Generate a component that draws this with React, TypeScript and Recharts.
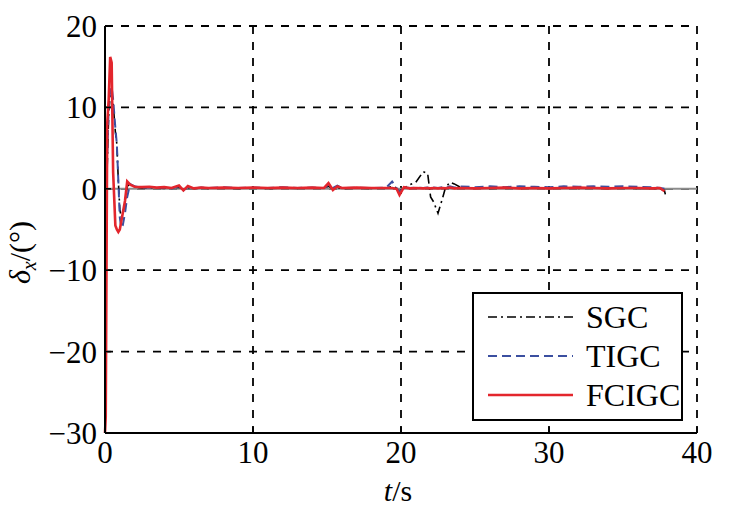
import React from 'react';
import {
  CartesianGrid,
  Legend,
  Line,
  LineChart,
  ReferenceLine,
  XAxis,
  YAxis,
} from 'recharts';

// time samples (s)
const time = [
  0, 0.05, 0.15, 0.25, 0.35, 0.45, 0.55, 0.7, 0.8, 0.9,
  1.0, 1.1, 1.2, 1.35, 1.5, 1.7, 2.0, 2.5, 3, 3.5,
  4, 4.5, 5, 5.3, 5.6, 6, 6.5, 7, 8, 9,
  10, 11, 12, 13, 14, 14.8, 15.1, 15.4, 15.7, 16,
  17, 18, 19, 19.4, 19.7, 19.9, 20.2, 20.6, 21, 21.5,
  21.8, 22, 22.2, 22.5, 22.8, 23, 23.3, 23.6, 24, 25,
  26, 27, 28, 29, 30, 31, 32, 33, 34, 35,
  36, 37, 37.5, 37.8, 37.9,
];

const sgc = [
  -30, -6.5, 3, 9, 11.5, 12, 10.5, 7, 5.5, 1,
  -2.5, -3.5, -3, -1.8, 0.3, 0.6, 0.2, 0.1, 0.15, 0.1,
  0.05, 0.1, 0.2, -0.1, 0.15, 0, 0.1, 0.05, 0.1, 0.05,
  0.1, 0.05, 0.1, 0.05, 0.1, 0.1, 0.3, 0, 0.15, 0.05,
  0.1, 0.05, 0.1, 0.3, 0.1, -0.3, 0.1, 0.5, 0.8, 2.1,
  1.9, -1, -1.6, -3, -1.2, 0.1, 0.8, 0.6, 0.2, 0.1,
  0.05, 0.1, 0.05, 0.1, 0.05, 0.1, 0.05, 0.1, 0.05, 0.1,
  0.05, 0.05, 0, -0.2, -1,
];

const tigc = [
  -30, -6, 4, 10, 12, 12.5, 11, 7.5, 5.5, 1,
  -3.5, -4.8, -4.5, -3, -1, 0.6, 0.3, 0.15, 0.2, 0.1,
  0.15, 0.05, 0.3, -0.2, 0.25, 0.05, 0.15, 0.1, 0.2, 0.1,
  0.15, 0.1, 0.2, 0.1, 0.15, 0.1, 0.5, 0.1, 0.4, 0.1,
  0.15, 0.1, 0.15, 0.9, 0.1, -0.4, 0.2, 0.1, 0.15, 0.1,
  0.15, 0.1, 0.15, 0.1, 0.2, 0.1, 0.3, 0.15, 0.3, 0.2,
  0.3, 0.2, 0.3, 0.25, 0.2, 0.3, 0.25, 0.3, 0.25, 0.3,
  0.25, 0.2, 0.1, 0, null,
];

const fcigc = [
  -30, -28, 8, 11, 16.2, 15.5, 2, -4.5, -5, -5.3,
  -5, -4, -3, -1.5, 0.9, 0.5, 0.25, 0.2, 0.25, 0.15,
  0.2, 0.1, 0.4, -0.2, 0.35, 0.05, 0.15, 0.1, 0.15, 0.1,
  0.15, 0.1, 0.15, 0.1, 0.15, 0.1, 0.7, -0.15, 0.3, 0.1,
  0.15, 0.1, 0.1, 0.1, 0, -0.75, 0.2, 0.05, 0.1, 0.05,
  0.1, 0.05, 0.1, 0.05, 0.1, 0.05, 0.15, 0.05, 0.1, 0.05,
  0.1, 0.15, 0.05, 0.1, 0.05, 0.1, 0.15, 0.1, 0.05, 0.1,
  0.1, 0.05, 0.1, -0.3, null,
];

const xTicks = [0, 10, 20, 30, 40];
const yTicks = [-30, -20, -10, 0, 10, 20];

const FONT = 'Liberation Serif';

const series = [
  { key: 'SGC', color: '#000000', dash: '9 4 2 4', width: 1.6 },
  { key: 'TIGC', color: '#3b4fa0', dash: '9 5', width: 2 },
  { key: 'FCIGC', color: '#e3262d', dash: undefined, width: 2.6 },
];

const data = time.map((t, i) => ({
  t,
  SGC: sgc[i],
  TIGC: tigc[i],
  FCIGC: fcigc[i],
}));

const fmt = (v: number) => String(v).replace('-', '\u2212');

function YLabel({ viewBox }: any) {
  const cx = 30;
  const cy = viewBox.y + viewBox.height / 2 + 23;
  return (
    <text
      x={cx}
      y={cy}
      transform={`rotate(-90 ${cx} ${cy})`}
      textAnchor="middle"
      fontFamily={FONT}
      fontSize={30}
      fill="#000"
    >
      <tspan fontStyle="italic">δ</tspan>
      <tspan fontStyle="italic" fontSize={20} dy={6}>
        x
      </tspan>
      <tspan dy={-6}>/(°)</tspan>
    </text>
  );
}

function XLabel({ viewBox }: any) {
  const cx = viewBox.x + viewBox.width / 2 - 3;
  const cy = viewBox.y + 68;
  return (
    <text
      x={cx}
      y={cy}
      textAnchor="middle"
      fontFamily={FONT}
      fontSize={30}
      fill="#000"
    >
      <tspan fontStyle="italic">t</tspan>
      <tspan>/s</tspan>
    </text>
  );
}

function LegendBox() {
  return (
    <svg width={211} height={129} style={{ display: 'block' }}>
      <rect
        x={1}
        y={1}
        width={209}
        height={127}
        fill="#fff"
        stroke="#000"
        strokeWidth={2}
      />
      {series.map((s, i) => {
        const y = 25 + i * 39;
        return (
          <g key={s.key}>
            <line
              x1={16}
              x2={101}
              y1={y}
              y2={y}
              stroke={s.color}
              strokeWidth={s.width}
              strokeDasharray={s.dash}
            />
            <text
              x={114}
              y={y + 11}
              fontFamily={FONT}
              fontSize={32}
              fill="#000"
            >
              {s.key}
            </text>
          </g>
        );
      })}
    </svg>
  );
}

export default function App() {
  const tickStyle = { fontFamily: FONT, fontSize: 31, fill: '#000' };
  return (
    <div style={{ width: 741, height: 524, background: '#fff' }}>
      <style>{'body{margin:0}'}</style>
      <LineChart
        width={741}
        height={524}
        data={data}
        margin={{ top: 26, right: 44, bottom: 0, left: 0 }}
      >
        <CartesianGrid
          stroke="#000"
          strokeWidth={1.8}
          strokeDasharray="8 8"
        />
        <XAxis
          dataKey="t"
          type="number"
          domain={[0, 40]}
          ticks={xTicks}
          height={91}
          tickSize={-6}
          tickMargin={14}
          tick={tickStyle}
          tickFormatter={fmt}
          axisLine={{ stroke: '#000', strokeWidth: 2 }}
          tickLine={{ stroke: '#000', strokeWidth: 1.5 }}
          label={<XLabel />}
        />
        <XAxis
          xAxisId="top"
          orientation="top"
          type="number"
          domain={[0, 40]}
          ticks={xTicks}
          height={0}
          tickSize={-6}
          tick={false}
          axisLine={{ stroke: '#000', strokeWidth: 2 }}
          tickLine={{ stroke: '#000', strokeWidth: 1.5 }}
        />
        <YAxis
          type="number"
          domain={[-30, 20]}
          ticks={yTicks}
          width={105}
          tickSize={-6}
          tickMargin={14}
          tick={tickStyle}
          tickFormatter={fmt}
          axisLine={{ stroke: '#000', strokeWidth: 2 }}
          tickLine={{ stroke: '#000', strokeWidth: 1.5 }}
          allowDataOverflow
          label={<YLabel />}
        />
        <YAxis
          yAxisId="right"
          orientation="right"
          type="number"
          domain={[-30, 20]}
          ticks={yTicks}
          width={0}
          tickSize={-6}
          tick={false}
          axisLine={{ stroke: '#000', strokeWidth: 2 }}
          tickLine={{ stroke: '#000', strokeWidth: 1.5 }}
        />
        <ReferenceLine y={0} stroke="#8c8c8c" strokeWidth={2} />
        {series.map((s) => (
          <Line
            key={s.key}
            type="linear"
            dataKey={s.key}
            stroke={s.color}
            strokeWidth={s.width}
            strokeDasharray={s.dash}
            dot={false}
            activeDot={false}
            isAnimationActive={false}
          />
        ))}
        <Legend
          layout="vertical"
          align="center"
          verticalAlign="middle"
          wrapperStyle={{
            position: 'absolute',
            left: 472,
            top: 292,
            width: 211,
            height: 129,
          }}
          content={<LegendBox />}
        />
      </LineChart>
    </div>
  );
}
